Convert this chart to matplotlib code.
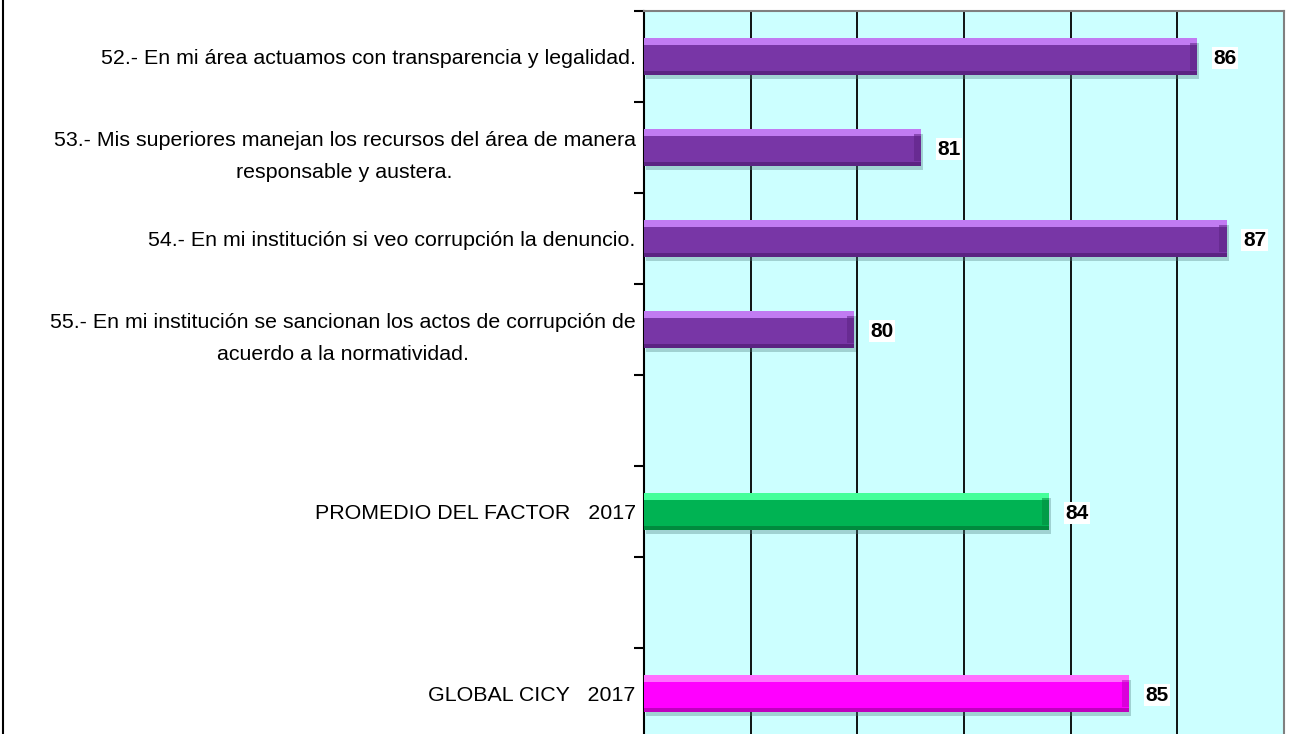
import matplotlib
matplotlib.use('Agg')
import matplotlib.pyplot as plt
from matplotlib.lines import Line2D
from matplotlib import font_manager
from matplotlib.transforms import ScaledTranslation

# ---------------- data ----------------
categories = [
    "52.- En mi área actuamos con transparencia y legalidad.",
    "53.- Mis superiores manejan los recursos del área de manera\nresponsable y austera.",
    "54.- En mi institución si veo corrupción la denuncio.",
    "55.- En mi institución se sancionan los actos de corrupción de\nacuerdo a la normatividad.",
    "",
    "PROMEDIO DEL FACTOR   2017",
    "",
    "GLOBAL CICY   2017",
]
values = [86.37, 81.2, 86.93, 79.94, None, 83.6, None, 85.1]
value_labels = ["86", "81", "87", "80", "", "84", "", "85"]
bar_colors = ["#7836A6", "#7836A6", "#7836A6", "#7836A6", None, "#00B353", None, "#FF00FF"]
top_colors = ["#C17BF2", "#C17BF2", "#C17BF2", "#C17BF2", None, "#45FF9A", None, "#FF70FF"]
bottom_colors = ["#5B2382", "#5B2382", "#5B2382", "#5B2382", None, "#008A3E", None, "#BF00BF"]
x_min, x_max = 76, 88
x_grid = [76, 78, 80, 82, 84, 86, 88]

# ---------------- font ----------------
avail = {f.name for f in font_manager.fontManager.ttflist}
fam = "Liberation Sans Narrow" if "Liberation Sans Narrow" in avail else "Liberation Sans"
plt.rcParams['font.family'] = [fam, 'DejaVu Sans']
narrow = fam == "Liberation Sans Narrow"
lab_size = 17.5 if narrow else 15.4
val_size = 17 if narrow else 15

fig = plt.figure(figsize=(12.95, 7.34), dpi=100)
ax = fig.add_axes([644 / 1295, -5 / 734, 640 / 1295, 1 - 11 / 734 + 5 / 734])
ax.set_facecolor("#CCFFFF")

n = len(categories)
ys = list(range(n))
h = 0.40

for i, v in enumerate(values):
    if v is None:
        continue
    w = v - x_min
    # shadow
    ax.barh(i + 0.05, w, left=x_min + 0.03, height=h, color="#4F7F7F", alpha=0.35,
            linewidth=0, zorder=2)
    # main body
    ax.barh(i, w, left=x_min, height=h, color=bar_colors[i], linewidth=0, zorder=3)
    # top highlight band
    ax.barh(i - h / 2 + h * 0.09, w, left=x_min, height=h * 0.18,
            color=top_colors[i], linewidth=0, zorder=4)
    # bottom dark band
    ax.barh(i + h / 2 - h * 0.05, w, left=x_min, height=h * 0.10,
            color=bottom_colors[i], linewidth=0, zorder=4)
    # right bevel
    ax.barh(i, 0.14, left=v - 0.14, height=h * 0.72, color=bottom_colors[i],
            alpha=0.55, linewidth=0, zorder=5)
    ax.text(v + 0.30, i + 0.02, value_labels[i], ha='left', va='center',
            fontsize=val_size, fontweight='bold', color='black', zorder=6,
            bbox=dict(facecolor='white', edgecolor='none', pad=1.0))

ax.set_xlim(x_min, x_max)
ax.set_ylim(n - 0.5, -0.5)

# grid
ax.set_xticks(x_grid)
ax.xaxis.grid(True, color='black', linewidth=1.3, zorder=1)
ax.set_axisbelow(True)
ax.tick_params(axis='x', length=0, labelbottom=False)

# y ticks
ax.set_yticks(ys)
ax.set_yticklabels(categories, fontsize=lab_size)
ax.tick_params(axis='y', which='major', length=0, pad=6)
shift = ScaledTranslation(0, -1 / 100, fig.dpi_scale_trans)
for t in ax.get_yticklabels():
    t.set_multialignment('center')
    if "\n" in t.get_text():
        t.set_linespacing(1.85)
        t.set_transform(t.get_transform() + shift)
ax.set_yticks([k - 0.5 for k in range(n + 1)], minor=True)
ax.tick_params(axis='y', which='minor', length=7, width=1.5, direction='out', color='black')

ax.spines['left'].set_color('black')
ax.spines['left'].set_linewidth(1.5)
for s in ['top', 'right']:
    ax.spines[s].set_color('#808080')
    ax.spines[s].set_linewidth(1.5)
ax.spines['bottom'].set_visible(False)

fig.add_artist(Line2D([2.5 / 1295, 2.5 / 1295], [0, 1], transform=fig.transFigure,
                      color='black', linewidth=1.5))

fig.savefig("out.png", dpi=100, facecolor='white')
